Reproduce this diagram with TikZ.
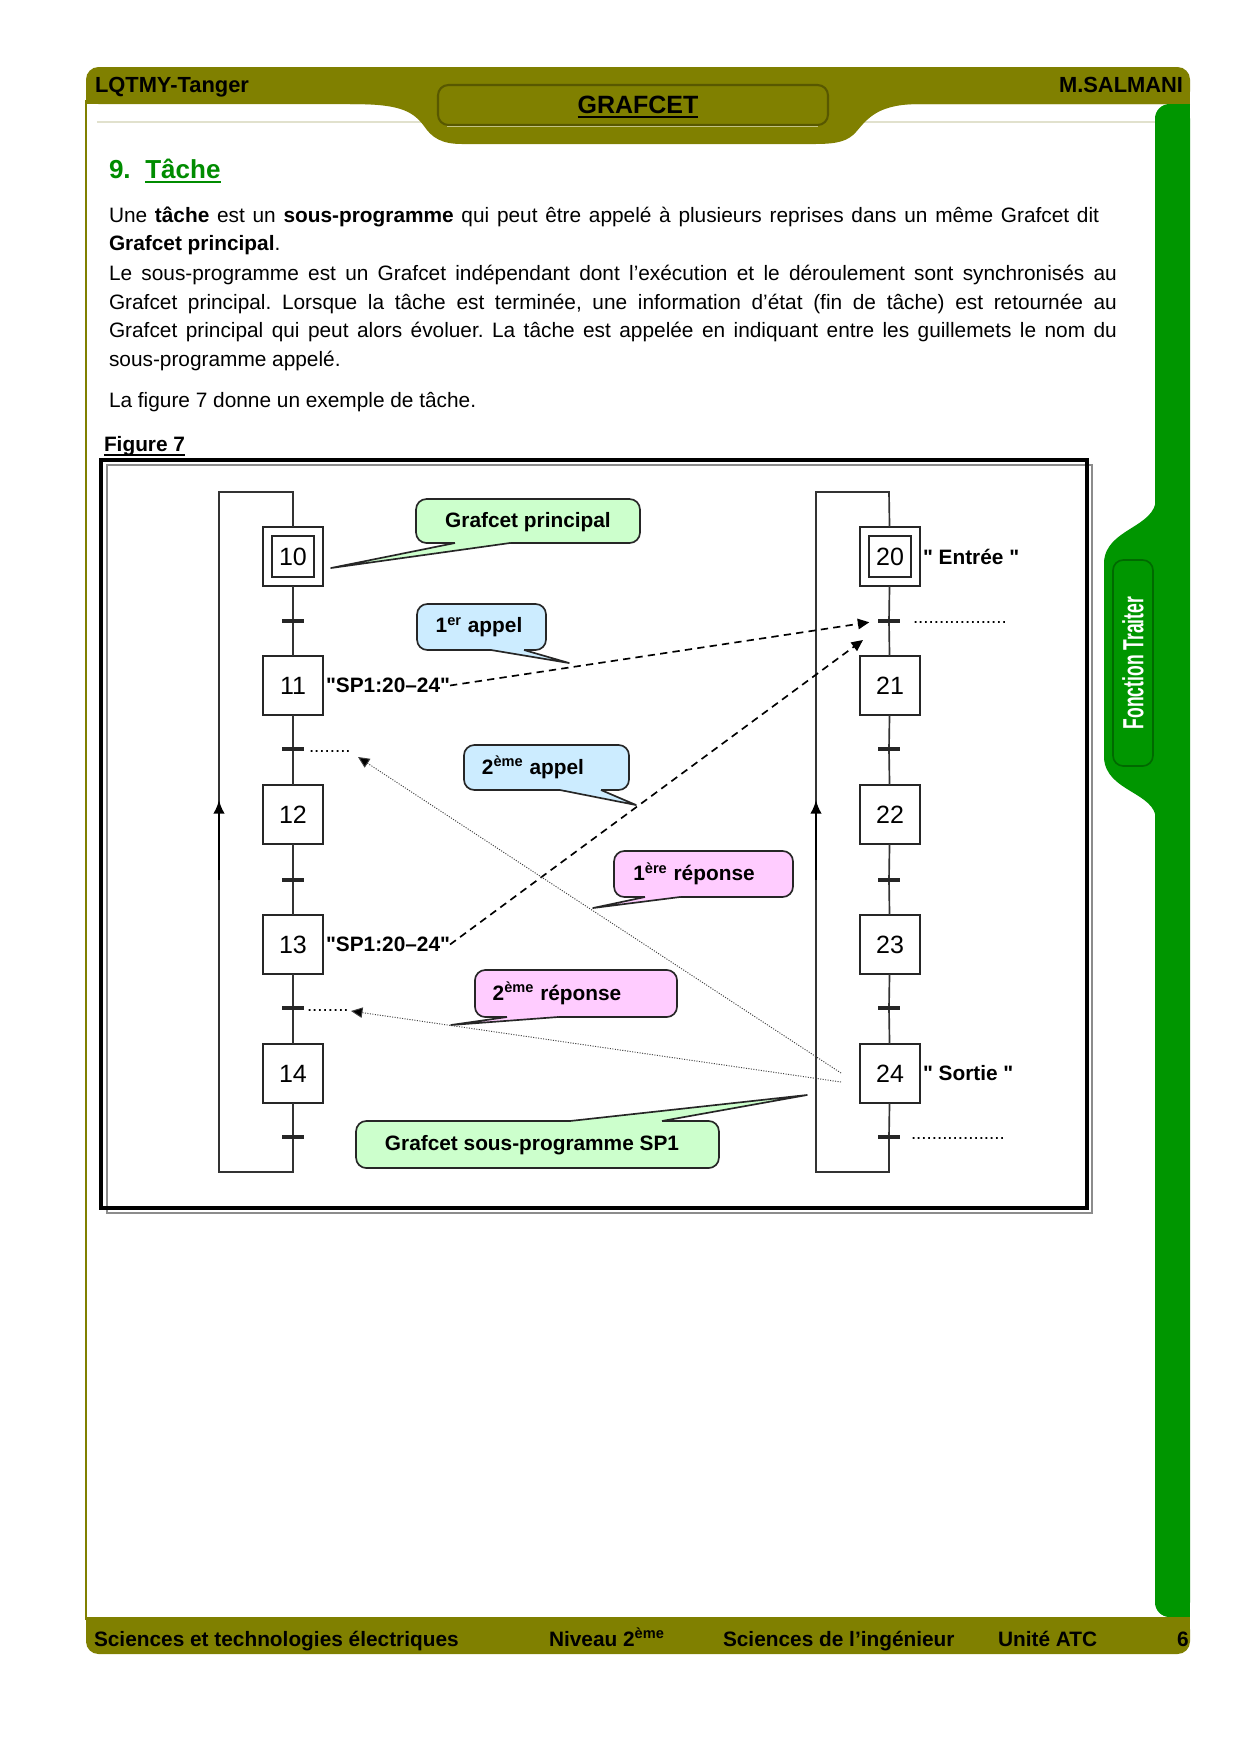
\documentclass[tikz,border=0pt]{standalone}
\usepackage{fontspec}
\setmainfont{Liberation Sans}
\usetikzlibrary{arrows.meta,calc}
\frenchspacing
\definecolor{olivebar}{RGB}{128,128,0}
\definecolor{olivedark}{RGB}{88,88,0}
\definecolor{olivelight}{RGB}{195,195,130}
\definecolor{greenbar}{RGB}{0,150,0}
\definecolor{greendark}{RGB}{0,105,0}
\definecolor{titlegreen}{RGB}{0,140,0}
\definecolor{cgreen}{RGB}{204,255,204}
\definecolor{cblue}{RGB}{204,236,255}
\definecolor{cpink}{RGB}{255,204,255}
\definecolor{hline}{RGB}{225,225,205}
\newcommand\fbody{\fontsize{10bp}{12bp}\selectfont\frenchspacing}
\newcommand\ftitle{\fontsize{12.5bp}{14bp}\selectfont\bfseries}
\newcommand\fhead{\fontsize{10.5bp}{12bp}\selectfont\bfseries}
\newcommand\fhdrtitle{\fontsize{12bp}{14bp}\selectfont\bfseries}
\newcommand\ffoot{\fontsize{10bp}{12bp}\selectfont\bfseries}
\newcommand\fstep{\fontsize{12bp}{14bp}\selectfont}
\newcommand\flbl{\fontsize{10bp}{12bp}\selectfont\bfseries}
\newcommand\fcall{\fontsize{10bp}{12bp}\selectfont\bfseries}
\newcommand\fdots{\fontsize{9bp}{11bp}\selectfont}
\newcommand\qq{\textquotedbl}
\newsavebox\ulbox
\newcommand\myul[2]{\sbox\ulbox{#2}\rlap{\raisebox{-2.4bp}{\rule{\wd\ulbox}{#1}}}\usebox\ulbox}
\begin{document}
\begin{tikzpicture}[x=0.48bp,y=-0.48bp,
  every node/.style={inner sep=0pt,outer sep=0pt},
  stepbox/.style={draw=black!85,line width=0.8bp,minimum width=28.8bp,minimum height=28.3bp,font=\fstep},
  initin/.style={draw=black!85,line width=0.8bp,minimum width=20.2bp,minimum height=19.7bp,font=\fstep},
  trans/.style={fill=black!85,minimum width=11bp,minimum height=1.5bp},
  link/.style={draw=black!80,line width=0.8bp},
  looparrow/.style={draw=black,line width=1.1bp,-{Latex[length=6.5bp,width=5.5bp]}},
  lbl/.style={font=\flbl,anchor=west},
  dotlbl/.style={font=\fdots,anchor=base west},
  callbox/.style={draw=black!85,line width=0.8bp,rounded corners=5bp},
  calline/.style={draw=black!85,line width=0.8bp,line join=round},
  calltext/.style={font=\fcall},
  dashconn/.style={draw=black,line width=0.8bp,dash pattern=on 3.5bp off 2.5bp,-{Triangle[length=5.5bp,width=5bp]}},
  dotconn/.style={draw=black!75,line width=0.45bp,dash pattern=on 0.5bp off 0.7bp,-{Triangle[length=5.5bp,width=5bp,fill=black]}},
  bodytext/.style={font=\fbody,anchor=base west},
  foottext/.style={font=\ffoot,anchor=base west}
]
\useasboundingbox (0,0) rectangle (1240,1753);
\fill[white] (0,0) rectangle (1240,1753);

% ---------- page frame ----------
\draw[hline,line width=0.7bp] (97,122) -- (1155,122);
\draw[olivebar,line width=0.6bp] (86,100) -- (86,1620);
% header bar
\fill[olivebar,rounded corners=6bp] (86,67) rectangle (1190,104);
\fill[olivebar] (86,85) rectangle (1190,104);
\fill[olivebar] (1190,104) -- (920,104) .. controls (878,104) and (868,118) .. (856,132)
  .. controls (848,141) and (838,144) .. (815,144) -- (462,144)
  .. controls (442,144) and (432,138) .. (424,126) .. controls (412,110) and (398,104) .. (350,104) -- cycle;
\node[draw=olivedark,line width=1bp,fill=olivebar,rounded corners=5bp,minimum width=187.2bp,minimum height=19.2bp] (hdrbox) at (633,105) {};
\draw[olivelight,line width=0.8bp] (447,126.5) -- (818,126.5);
\node[font=\fhdrtitle,anchor=base] (hdrtitle) at (638,113) {\myul{1bp}{GRAFCET}};
\node[font=\fhead,anchor=base west] (school) at (95,92) {LQTMY-Tanger};
\node[font=\fhead,anchor=base east] (author) at (1183,92) {M.SALMANI};

% green side bar
\fill[greenbar,rounded corners=7bp] (1155,104) rectangle (1190,1617);
\fill[greenbar] (1175,104) rectangle (1190,1617);
\fill[greenbar] (1156,498) .. controls (1156,528) and (1106,528) .. (1104,562) -- (1104,758)
  .. controls (1106,792) and (1156,792) .. (1156,820) -- cycle;
\node[draw=greendark,line width=0.8bp,fill=greenbar,rounded corners=5bp,minimum width=19.2bp,minimum height=98.9bp] (tabbox) at (1133,663) {};
\node[rotate=90,text=white,font=\fontsize{14bp}{16bp}\selectfont\bfseries] (tabtext) at (1133,663) {\scalebox{0.6}[1]{Fonction Traiter}};

% footer bar
\fill[olivebar,rounded corners=6bp] (86,1617) rectangle (1190,1654);
\fill[olivebar] (86,1617) rectangle (1190,1635);
\node[foottext] (f1) at (94,1646) {Sciences et technologies électriques};
\node[foottext] (f2) at (549,1646) {Niveau 2\textsuperscript{ème}};
\node[foottext] (f3) at (723,1646) {Sciences de l'ingénieur};
\node[foottext] (f4) at (998,1646) {Unité ATC};
\node[foottext] (f5) at (1177,1646) {6};

% ---------- text ----------
\node[font=\ftitle,text=titlegreen,anchor=base west] (title) at (109,178) {9.\hspace*{7bp}\myul{0.9bp}{Tâche}};
\node[bodytext] (p1) at (109,222) {\makebox[475.2bp][s]{Une \textbf{tâche} est un \textbf{sous-programme} qui peut être appelé à plusieurs reprises dans un même Grafcet dit}};
\node[bodytext] (p2) at (109,250) {\textbf{Grafcet principal}.};
\node[bodytext] (p3) at (109,280) {\makebox[483.8bp][s]{Le sous-programme est un Grafcet indépendant dont l'exécution et le déroulement sont synchronisés au}};
\node[bodytext] (p4) at (109,309) {\makebox[483.8bp][s]{Grafcet principal. Lorsque la tâche est terminée, une information d'état (fin de tâche) est retournée au}};
\node[bodytext] (p5) at (109,337) {\makebox[483.8bp][s]{Grafcet principal qui peut alors évoluer. La tâche est appelée en indiquant entre les guillemets le nom du}};
\node[bodytext] (p6) at (109,366) {sous-programme appelé.};
\node[bodytext] (p7) at (109,407) {La figure 7 donne un exemple de tâche.};
\node[bodytext] (figlabel) at (104,451) {\myul{0.8bp}{\textbf{Figure 7}}};

% ---------- figure frame ----------
\draw[black!45,line width=1bp] (107,465) rectangle (1092,1213);
\draw[black,line width=1.7bp] (101,460) rectangle (1087,1208);

% ---------- left grafcet ----------
\node[stepbox] (s10) at (293,556.5) {};
\node[initin] (s10i) at (293,556.5) {10};
\node[stepbox] (s11) at (293,685.5) {11};
\node[stepbox] (s12) at (293,814.5) {12};
\node[stepbox] (s13) at (293,944.5) {13};
\node[stepbox] (s14) at (293,1073.5) {14};
\node[trans] (t10) at (293,621) {};
\node[trans] (t11) at (293,749) {};
\node[trans] (t12) at (293,880) {};
\node[trans] (t13) at (293,1008) {};
\node[trans] (t14) at (293,1137) {};
\coordinate (lbr) at (293,1172);
\coordinate (lbl) at (219,1172);
\coordinate (ltl) at (219,492);
\coordinate (ltr) at (293,492);
\coordinate (la1) at (219,880);
\coordinate (la2) at (219,800);
\draw[link] (s10) -- (t10) -- (s11) -- (t11) -- (s12) -- (t12) -- (s13) -- (t13) -- (s14) -- (t14) -- (lbr) -- (lbl) -- (ltl) -- (ltr) -- (s10);
\draw[looparrow] (la1) -- (la2);

% ---------- right grafcet ----------
\node[stepbox] (s20) at (890,556.5) {};
\node[initin] (s20i) at (890,556.5) {20};
\node[stepbox] (s21) at (890,685.5) {21};
\node[stepbox] (s22) at (890,814.5) {22};
\node[stepbox] (s23) at (890,944.5) {23};
\node[stepbox] (s24) at (890,1073.5) {24};
\node[trans] (t20) at (889,621) {};
\node[trans] (t21) at (889,749) {};
\node[trans] (t22) at (889,880) {};
\node[trans] (t23) at (889,1008) {};
\node[trans] (t24) at (889,1137) {};
\coordinate (rbr) at (889,1172);
\coordinate (rbl) at (816,1172);
\coordinate (rtl) at (816,492);
\coordinate (rtr) at (889,492);
\coordinate (ra1) at (816,880);
\coordinate (ra2) at (816,800);
\draw[link] (s20) -- (t20) -- (s21) -- (t21) -- (s22) -- (t22) -- (s23) -- (t23) -- (s24) -- (t24) -- (rbr) -- (rbl) -- (rtl) -- (rtr) -- (s20);
\draw[looparrow] (ra1) -- (ra2);

% ---------- labels ----------
\node[lbl] (n11) at (326,685.5) {\qq SP1:20–24\qq};
\node[lbl] (n13) at (326,944.5) {\qq SP1:20–24\qq};
\node[lbl] (e20) at (923,557) {\qq{} Entrée \qq};
\node[lbl] (e24) at (923,1073) {\qq{} Sortie \qq};
\node[dotlbl] (d11) at (309,752) {........};
\node[dotlbl] (d13) at (307,1011) {........};
\node[dotlbl] (d20) at (913,623) {..................};
\node[dotlbl] (d24) at (911,1139) {..................};

% ---------- callouts ----------
% Grafcet principal
\node[callbox,fill=cgreen,minimum width=107.5bp,minimum height=21.1bp] (gpbox) at (528,521) {};
\fill[cgreen] (455,539) -- (455,543) -- (331,568) -- (510,543) -- (510,539) -- cycle;
\draw[calline] (455,543) -- (331,568) -- (510,543);
\node[calltext] (gptext) at (528,522) {Grafcet principal};
% 1er appel
\node[callbox,fill=cblue,minimum width=61.9bp,minimum height=22.1bp] (a1box) at (481.5,627) {};
\fill[cblue] (491,646) -- (491,650) -- (569,663) -- (524,650) -- (524,646) -- cycle;
\draw[calline] (491,650) -- (569,663) -- (524,650);
\node[calltext] (a1text) at (479,627) {1\textsuperscript{er} appel};
% 2eme appel
\node[callbox,fill=cblue,minimum width=79.2bp,minimum height=21.6bp] (a2box) at (546.5,767.5) {};
\fill[cblue] (560,786) -- (560,790) -- (636,805) -- (601,790) -- (601,786) -- cycle;
\draw[calline] (560,790) -- (636,805) -- (601,790);
\node[calltext] (a2text) at (533,767.5) {2\textsuperscript{ème} appel};
% 1ere reponse
\node[callbox,fill=cpink,minimum width=85.9bp,minimum height=22.1bp] (r1box) at (703.5,874) {};
\fill[cpink] (645,893) -- (645,897) -- (593,908) -- (680,897) -- (680,893) -- cycle;
\draw[calline] (645,897) -- (593,908) -- (680,897);
\node[calltext] (r1text) at (694,874) {1\textsuperscript{ère} réponse};
% 2eme reponse
\node[callbox,fill=cpink,minimum width=97bp,minimum height=22.6bp] (r2box) at (576,993.5) {};
\fill[cpink] (507,1013) -- (507,1017) -- (451,1025) -- (558,1017) -- (558,1013) -- cycle;
\draw[calline] (507,1017) -- (451,1025) -- (558,1017);
\node[calltext] (r2text) at (557,993.5) {2\textsuperscript{ème} réponse};
% Grafcet sous-programme SP1
\node[callbox,fill=cgreen,minimum width=174.2bp,minimum height=22.6bp] (spbox) at (537.5,1144.5) {};
\fill[cgreen] (570,1125) -- (570,1121) -- (807,1095) -- (662,1121) -- (662,1125) -- cycle;
\draw[calline] (570,1121) -- (807,1095) -- (662,1121);
\node[calltext] (sptext) at (532,1145) {Grafcet sous-programme SP1};

% ---------- connectors ----------
\coordinate (c2e) at (863,640);
\coordinate (c3s) at (841,1073);
\coordinate (c3e) at (358,757);
\coordinate (c4s) at (841,1082);
\coordinate (c4e) at (351,1011);
\draw[dashconn,shorten >=4bp] (n11.east) -- (t20.west);
\draw[dashconn] (n13.east) -- (c2e);
\draw[dotconn] (c3s) -- (c3e);
\draw[dotconn] (c4s) -- (c4e);
\end{tikzpicture}
\end{document}
